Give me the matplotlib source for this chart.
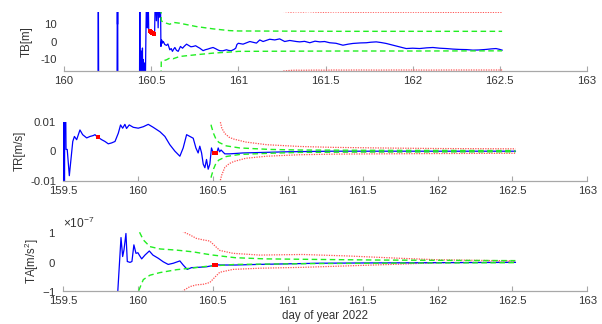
import matplotlib
matplotlib.use('Agg')
import matplotlib.pyplot as plt
from matplotlib.ticker import ScalarFormatter

plt.rcParams['font.family'] = ['Liberation Sans', 'DejaVu Sans']
plt.rcParams['axes.unicode_minus'] = False
plt.rcParams['mathtext.default'] = 'regular'

# ---- TB panel ----
tb_x = [160.190, 160.195, 160.197, 160.199, 160.304, 160.306, 160.307, 160.308, 160.309,
        160.433, 160.435, 160.437, 160.440, 160.442, 160.445, 160.447, 160.450, 160.452,
        160.455, 160.458, 160.462, 160.466, 160.470, 160.474, 160.478, 160.482, 160.486,
        160.490, 160.495, 160.500, 160.505, 160.510, 160.515, 160.520, 160.524, 160.530,
        160.535, 160.540, 160.545, 160.550, 160.553, 160.556, 160.560, 160.565, 160.570,
        160.578, 160.588, 160.596, 160.607, 160.615, 160.622, 160.630, 160.636, 160.645,
        160.655, 160.668, 160.680, 160.690, 160.703, 160.715, 160.728, 160.741, 160.755,
        160.768, 160.779, 160.790, 160.798, 160.810, 160.825, 160.840, 160.855, 160.870,
        160.883, 160.893, 160.910, 160.932, 160.945, 160.960, 160.975, 160.985, 160.992,
        161.000, 161.027, 161.066, 161.104, 161.123, 161.142, 161.180, 161.209, 161.237,
        161.266, 161.295, 161.333, 161.352, 161.380, 161.410, 161.440, 161.467, 161.495,
        161.524, 161.560, 161.600, 161.630, 161.657, 161.700, 161.734, 161.760, 161.791,
        161.820, 161.848, 161.875, 161.906, 161.935, 161.963, 162.000, 162.040, 162.080,
        162.116, 162.155, 162.192, 162.230, 162.268, 162.310, 162.345, 162.380, 162.421,
        162.450, 162.478, 162.500, 162.513]
tb_y = [-30, -30, 30, -30, -30, 30, 10, 30, -30,
        -30, 30, -30, -5, -30, -8, -30, -3.5, -30,
        -10, -30, -12, -30, 5, 30, 8, 30, 7,
        5.5, 5.2, 5.6, 4.8, 5.2, 4.5, 6, 30, 12,
        30, 8, 30, 14, 30, -2.6, 1.1, -0.7, 0.2,
        -1.5, -2.0, -1.2, -4.5, -3.8, -5.4, -4.0, -3.2, -4.8,
        -5.4, -2.6, -3.6, -2.5, -1.3, -2.0, -2.8, -2.6, -2.2,
        -3.0, -3.6, -4.4, -5.0, -4.5, -4.1, -3.6, -3.2, -3.9,
        -4.6, -5.0, -5.1, -4.5, -4.9, -5.0, -4.3, -3.6, -1.5,
        -0.8, -1.3, 0.2, -0.7, 1.1, 0.2, 1.5, 1.1, 1.7,
        0.2, 0.8, 0.2, 0.0, 0.3, -0.5, 0.4, 0.0, 0.2,
        -0.5, -0.8, -1.9, -1.3, -0.9, -0.6, -0.5, -0.2, 0.0,
        -0.4, -0.9, -1.6, -2.4, -3.1, -3.8, -3.6, -3.8, -3.4,
        -3.2, -3.6, -3.8, -4.1, -4.3, -4.4, -4.7, -4.6, -4.3,
        -4.0, -3.8, -4.3, -4.7]
tb_mark_x = [160.494, 160.498, 160.502, 160.506, 160.510, 160.514, 160.518]
tb_mark_y = [5.9, 5.6, 5.3, 5.0, 4.8, 4.5, 4.2]
tb_g_x = [160.554, 160.558, 160.575, 160.588, 160.607, 160.626, 160.664, 160.760, 160.855,
          160.950, 161.000, 161.300, 161.600, 162.000, 162.513]
tb_g_up = [40, 11.9, 11.2, 10.6, 10.0, 11.1, 10.6, 8.7, 7.4, 6.4, 6.2, 6.1, 6.0, 6.0, 6.0]
tb_g_lo = [-40, -11.1, -10.6, -10.2, -9.2, -9.6, -8.3, -7.3, -6.4, -5.8, -5.4, -5.3, -5.2, -5.2, -5.1]
tb_r_x = [160.560, 161.200, 161.260, 161.300, 161.330, 161.370, 161.400, 161.450, 161.500,
          161.550, 161.600, 161.700, 161.800, 161.900, 162.000, 162.100, 162.200, 162.300,
          162.400, 162.513]
tb_r_up = [40, 25, 17.3, 16.9, 17.1, 16.95, 17.2, 16.9, 16.85, 17.05, 16.9, 16.85, 16.9,
           16.85, 16.9, 16.85, 16.8, 16.85, 16.8, 16.85]
tb_r_lo = [-40, -25, -16.6, -16.2, -16.1, -16.15, -16.1, -16.05, -16.1, -16.0, -16.05,
           -16.0, -16.05, -16.0, -16.0, -16.05, -16.0, -16.0, -16.0, -16.0]

# ---- TR panel ----
tr_x = [159.497, 159.499, 159.501, 159.503, 159.505, 159.507, 159.509, 159.512, 159.520,
        159.528, 159.542, 159.565, 159.576, 159.591, 159.613, 159.631, 159.658, 159.680,
        159.702, 159.713, 159.731, 159.758, 159.780, 159.802, 159.824, 159.847, 159.869,
        159.884, 159.898, 159.913, 159.924, 159.942, 159.969, 160.002, 160.036, 160.069,
        160.102, 160.147, 160.180, 160.213, 160.247, 160.280, 160.302, 160.325, 160.347,
        160.369, 160.387, 160.402, 160.413, 160.425, 160.436, 160.447, 160.458, 160.469,
        160.480, 160.491, 160.500, 160.510, 160.520, 160.528, 160.536, 160.545, 160.555,
        160.580, 160.613, 160.700, 160.850, 161.000, 161.300, 161.700, 162.100, 162.520]
tr_y = [-0.05, 0.05, -0.05, 0.05, -0.05, 0.05, -0.05, 0.05, 0.0006,
        0.0006, -0.0083, 0.0033, 0.0050, 0.0039, 0.0072, 0.0056, 0.0045, 0.0050,
        0.0053, 0.0056, 0.0048, 0.0039, 0.0033, 0.0025, 0.0028, 0.0033, 0.0061,
        0.0089, 0.0078, 0.0091, 0.0077, 0.0089, 0.0081, 0.0078, 0.0083, 0.0091,
        0.0081, 0.0066, 0.0050, 0.0022, 0.0000, -0.0017, 0.0011, 0.0056, 0.0050,
        0.0044, 0.0011, -0.0006, 0.0017, -0.0006, -0.0044, -0.0056, -0.0028, -0.0061,
        -0.0044, 0.0011, -0.0002, -0.0006, -0.0006, -0.0004, 0.0011, -0.0002, 0.0004,
        -0.0009, -0.0009, -0.0006, -0.0004, -0.0002, 0.0000, 0.0000, 0.0000, 0.0000]
tr_mark_x = [159.731, 160.508, 160.514, 160.520]
tr_mark_y = [0.0048, -0.0006, -0.0006, -0.0006]
tr_g_x = [160.478, 160.490, 160.505, 160.520, 160.540, 160.590, 160.680, 160.880, 161.080,
          161.500, 162.000, 162.520]
tr_g_up = [0.012, 0.0085, 0.0060, 0.0042, 0.0030, 0.0018, 0.0011, 0.0006, 0.0004, 0.0003,
           0.00025, 0.0002]
tr_g_lo = [-0.012, -0.0085, -0.0060, -0.0042, -0.0030, -0.0018, -0.0011, -0.0007, -0.0004,
           -0.0003, -0.00025, -0.0002]
tr_r_x = [160.545, 160.552, 160.560, 160.580, 160.610, 160.640, 160.720, 160.860, 161.080,
          161.300, 161.600, 162.000, 162.520]
tr_r_up = [0.0115, 0.0095, 0.0078, 0.0060, 0.0047, 0.0041, 0.0031, 0.0022, 0.0016, 0.0013,
           0.0011, 0.0009, 0.0008]
tr_r_lo = [-0.0115, -0.0095, -0.0080, -0.0055, -0.0042, -0.0035, -0.0024, -0.0017, -0.0012,
           -0.0010, -0.0009, -0.0008, -0.0007]

# ---- TA panel (m/s^2) ----
ta_x = [159.860, 159.887, 159.898, 159.907, 159.920, 159.929, 159.947, 159.960, 159.973,
        159.987, 160.000, 160.009, 160.025, 160.047, 160.076, 160.100, 160.136, 160.169,
        160.202, 160.236, 160.280, 160.302, 160.329, 160.358, 160.402, 160.458, 160.500,
        160.520, 160.550, 160.650, 160.800, 161.200, 161.500, 162.000, 162.520]
ta_y = [-1.5e-7, 0.82e-7, 0.17e-7, 0.4e-7, 0.96e-7, 0.0, -0.03e-7, 0.0, 0.57e-7,
        0.28e-7, 0.30e-7, 0.22e-7, 0.09e-7, 0.22e-7, 0.36e-7, 0.22e-7, 0.11e-7, -0.01e-7,
        -0.10e-7, -0.06e-7, 0.02e-7, -0.12e-7, -0.27e-7, -0.21e-7, -0.20e-7, -0.18e-7, -0.14e-7,
        -0.11e-7, -0.12e-7, -0.12e-7, -0.10e-7, -0.06e-7, -0.05e-7, -0.04e-7, -0.03e-7]
ta_mark_x = [160.505, 160.512, 160.519]
ta_mark_y = [-0.12e-7, -0.11e-7, -0.11e-7]
ta_g_x = [159.995, 160.009, 160.036, 160.080, 160.147, 160.258, 160.369, 160.450, 160.500,
          160.650, 160.850, 161.200, 161.600, 162.000, 162.520]
ta_g_up = [1.3e-7, 1.02e-7, 0.74e-7, 0.51e-7, 0.43e-7, 0.39e-7, 0.33e-7, 0.26e-7, 0.22e-7,
           0.13e-7, 0.09e-7, 0.07e-7, 0.05e-7, 0.04e-7, 0.03e-7]
ta_g_lo = [-1.3e-7, -0.95e-7, -0.62e-7, -0.47e-7, -0.38e-7, -0.28e-7, -0.22e-7, -0.17e-7,
           -0.15e-7, -0.10e-7, -0.09e-7, -0.07e-7, -0.06e-7, -0.05e-7, -0.04e-7]
ta_r_x = [160.290, 160.302, 160.347, 160.391, 160.436, 160.480, 160.513, 160.546, 160.635,
          160.813, 161.100, 161.400, 161.750, 162.000, 162.520]
ta_r_up = [1.3e-7, 1.02e-7, 0.91e-7, 0.79e-7, 0.74e-7, 0.70e-7, 0.54e-7, 0.38e-7, 0.28e-7,
           0.22e-7, 0.24e-7, 0.19e-7, 0.11e-7, 0.06e-7, 0.02e-7]
ta_r_lo = [-1.3e-7, -1.0e-7, -0.86e-7, -0.80e-7, -0.78e-7, -0.72e-7, -0.54e-7, -0.37e-7,
           -0.27e-7, -0.23e-7, -0.20e-7, -0.15e-7, -0.09e-7, -0.04e-7, -0.02e-7]

fig = plt.figure(figsize=(6.02, 3.24), dpi=100)
ax1 = fig.add_axes([0.1063, 0.7818, 0.8688, 0.1812])
ax2 = fig.add_axes([0.1047, 0.4423, 0.8709, 0.1821])
ax3 = fig.add_axes([0.1047, 0.1028, 0.8709, 0.1802])

dash = (0, (4, 2.5))
dot = (0, (1, 1))
panels = [
    (ax1, tb_x, tb_y, tb_mark_x, tb_mark_y, tb_g_x, tb_g_up, tb_g_lo, tb_r_x, tb_r_up, tb_r_lo),
    (ax2, tr_x, tr_y, tr_mark_x, tr_mark_y, tr_g_x, tr_g_up, tr_g_lo, tr_r_x, tr_r_up, tr_r_lo),
    (ax3, ta_x, ta_y, ta_mark_x, ta_mark_y, ta_g_x, ta_g_up, ta_g_lo, ta_r_x, ta_r_up, ta_r_lo),
]
for ax, bx, by, mx, my, gx, gu, gl, rx, ru, rl in panels:
    ax.plot(rx, ru, color='#ff5050', lw=0.9, linestyle=dot)
    ax.plot(rx, rl, color='#ff5050', lw=0.9, linestyle=dot)
    ax.plot(bx, by, color='blue', lw=0.9)
    ax.plot(gx, gu, color='#22ee22', lw=1.0, linestyle=dash)
    ax.plot(gx, gl, color='#22ee22', lw=1.0, linestyle=dash)
    ax.plot(mx, my, color='red', linestyle='none', marker='s', ms=2.6, mew=0)
    for s in ['top', 'right', 'left']:
        ax.spines[s].set_visible(False)
    ax.spines['bottom'].set_color('#a8a8a8')
    ax.spines['bottom'].set_linewidth(0.9)
    ax.tick_params(axis='x', direction='in', length=3.5, color='#a8a8a8',
                   labelsize=8.2, labelcolor='#333333', pad=4)
    ax.tick_params(axis='y', length=0, labelsize=8.2, labelcolor='#333333', pad=5)

ax1.set_xlim(160, 163)
ax1.set_ylim(-16.4, 17.0)
ax1.set_xticks([160, 160.5, 161, 161.5, 162, 162.5, 163])
ax1.set_xticklabels(['160', '160.5', '161', '161.5', '162', '162.5', '163'])
ax1.set_yticks([-10, 0, 10])
ax1.set_ylabel('TB[m]', fontsize=8.3, color='#333333')
ax1.yaxis.set_label_coords(-0.059, 0.5)

x_ticks = [159.5, 160, 160.5, 161, 161.5, 162, 162.5, 163]
x_labels = ['159.5', '160', '160.5', '161', '161.5', '162', '162.5', '163']

ax2.set_xlim(159.5, 163)
ax2.set_ylim(-0.01, 0.01)
ax2.set_xticks(x_ticks)
ax2.set_xticklabels(x_labels)
ax2.set_yticks([-0.01, 0, 0.01])
ax2.set_yticklabels(['-0.01', '0', '0.01'])
ax2.set_ylabel('TR[m/s]', fontsize=8.3, color='#333333')
ax2.yaxis.set_label_coords(-0.071, 0.5)

ax3.set_xlim(159.5, 163)
ax3.set_ylim(-1e-7, 1e-7)
ax3.set_xticks(x_ticks)
ax3.set_xticklabels(x_labels)
ax3.set_yticks([-1e-7, 0, 1e-7])
fmt = ScalarFormatter(useMathText=True)
fmt.set_powerlimits((0, 0))
ax3.yaxis.set_major_formatter(fmt)
ax3.yaxis.get_offset_text().set_fontsize(8.6)
ax3.yaxis.get_offset_text().set_color('#333333')
ax3.set_ylabel('TA[m/s$^2$]', fontsize=8.3, color='#333333')
ax3.yaxis.set_label_coords(-0.042, 0.5)
ax3.set_xlabel('day of year 2022', fontsize=8.3, color='#333333', labelpad=3)

fig.savefig('out.png', dpi=100)
